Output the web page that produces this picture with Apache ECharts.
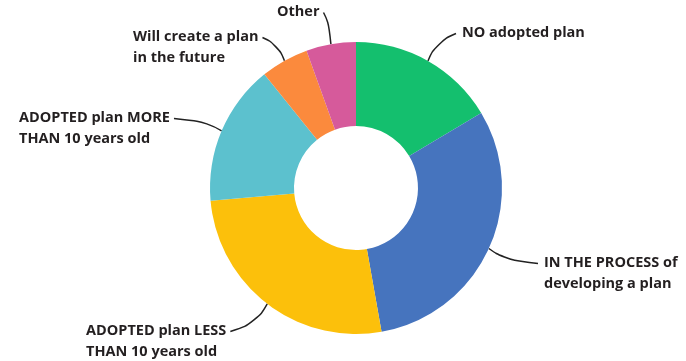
<!DOCTYPE html>
<html>
<head>
<meta charset="utf-8">
<style>
  html, body { margin: 0; padding: 0; background: #fff; }
  #chart { width: 686px; height: 361px; }
</style>
<script src="https://cdn.jsdelivr.net/npm/echarts@6/dist/echarts.min.js"></script>
</head>
<body>
<div id="chart"></div>
<script>
// categories (clockwise from 12 o'clock)
const categories = [
  "NO adopted plan",
  "IN THE PROCESS of\ndeveloping a plan",
  "ADOPTED plan LESS\nTHAN 10 years old",
  "ADOPTED plan MORE\nTHAN 10 years old",
  "Will create a plan\nin the future",
  "Other"
];
// share in percent
const values = [16.4, 30.8, 26.4, 15.6, 5.3, 5.5];
const colors = ["#14bf6e", "#4674be", "#fcc00b", "#5cc1ce", "#fb8a3d", "#d65a9b"];

// label block (left, top) and which side of the text the leader line meets
const labelSpots = [
  { x: 462, y: 22, side: "left" },
  { x: 544, y: 252, side: "left" },
  { x: 86, y: 320, side: "right" },
  { x: 19, y: 107, side: "right" },
  { x: 133, y: 26, side: "right" },
  { x: 277, y: 1, side: "right" }
];
const LINE_H = 21;

const chart = echarts.init(document.getElementById("chart"));

chart.setOption({
  animation: false,
  color: colors,
  series: [
    {
      type: "pie",
      center: [356, 188],
      radius: [62, 146],
      startAngle: 90,
      clockwise: true,
      avoidLabelOverlap: false,
      data: categories.map((name, i) => ({ name, value: values[i] })),
      label: {
        show: true,
        position: "outside",
        formatter: "{b}",
        color: "#231f20",
        fontFamily: "Open Sans",
        fontWeight: "bold",
        fontSize: 14.5,
        lineHeight: LINE_H
      },
      labelLine: {
        show: true,
        smooth: 0.5,
        length: 10,
        length2: 10,
        lineStyle: { color: "#222", width: 1.5 }
      },
      labelLayout: params => {
        const s = labelSpots[params.dataIndex];
        const w = params.labelRect.width;
        const start = params.labelLinePoints ? params.labelLinePoints[0] : null;
        const out = { x: s.x, y: s.y, align: "left", verticalAlign: "top" };
        if (start) {
          const ey = s.y + LINE_H / 2 + 1;
          const ex = s.side === "left" ? s.x - 6 : s.x + w + 4;
          const cx = (start[0] + ex) / 2, cy = (start[1] + ey) / 2;
          // bend toward the corner (vertical off the ring, horizontal into text)
          const kx = start[0], ky = ey;
          const mid = [cx + (kx - cx) * 0.4, cy + (ky - cy) * 0.4];
          out.labelLinePoints = [start, mid, [ex, ey]];
        }
        return out;
      },
      emphasis: { disabled: true }
    }
  ]
});
</script>
</body>
</html>
